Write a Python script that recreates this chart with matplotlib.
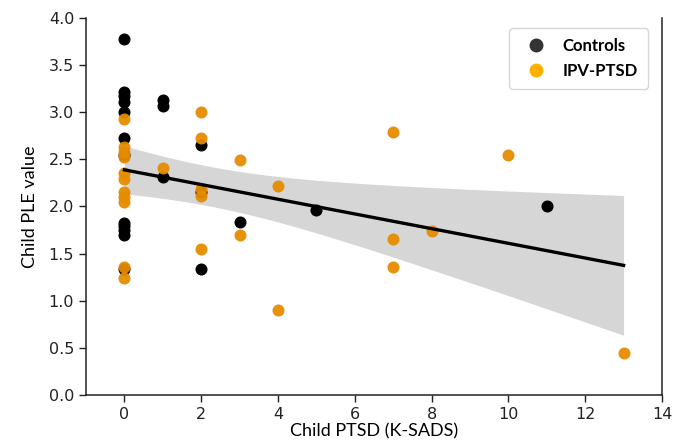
import numpy as np
import matplotlib
matplotlib.use("Agg")
import matplotlib.pyplot as plt
from matplotlib.lines import Line2D

# Controls: child PTSD (K-SADS) vs child PLE value
ctrl_x = [0, 0, 0, 0, 0, 0, 0, 0, 0, 0, 0, 0, 1, 1, 1, 2, 2, 2, 3, 5, 11]
ctrl_y = [3.78, 3.21, 3.17, 3.11, 3.00, 2.73, 2.55, 1.83, 1.79, 1.75, 1.70, 1.34,
          3.13, 3.07, 2.31, 2.65, 2.15, 1.34, 1.84, 1.96, 2.00]

# IPV-PTSD group
ipv_x = [0, 0, 0, 0, 0, 0, 0, 0, 0, 0, 0, 1, 2, 2, 2, 2, 2, 3, 3, 4, 4, 7, 7, 7, 8, 10, 13]
ipv_y = [2.93, 2.63, 2.58, 2.53, 2.36, 2.29, 2.15, 2.10, 2.05, 1.36, 1.24, 2.41,
         3.00, 2.73, 2.19, 2.11, 1.55, 2.49, 1.70, 2.22, 0.90, 2.79, 1.65, 1.36, 1.74,
         2.55, 0.45]

x_ticks = [0, 2, 4, 6, 8, 10, 12, 14]
y_ticks = [0.0, 0.5, 1.0, 1.5, 2.0, 2.5, 3.0, 3.5, 4.0]

# linear fit over both groups with confidence band
x_all = np.array(ctrl_x + ipv_x, dtype=float)
y_all = np.array(ctrl_y + ipv_y, dtype=float)
n = len(x_all)
slope, intercept = np.polyfit(x_all, y_all, 1)
resid = y_all - (slope * x_all + intercept)
s = np.sqrt(np.sum(resid ** 2) / (n - 2))
xm = x_all.mean()
sxx = np.sum((x_all - xm) ** 2)
xg = np.linspace(x_all.min(), x_all.max(), 100)
yg = slope * xg + intercept
t = 2.3
ci = t * s * np.sqrt(1.0 / n + (xg - xm) ** 2 / sxx)

fig = plt.figure(figsize=(6.86, 4.44), dpi=100)
ax = fig.add_axes([0.1254, 0.1104, 0.965 - 0.1254, 0.9595 - 0.1104])

ax.fill_between(xg, yg - ci, yg + ci, color='#d6d6d6', lw=0, zorder=1)
ax.scatter(ctrl_x, ctrl_y, s=75, color='#000000', lw=0, zorder=2)
ax.scatter(ipv_x, ipv_y, s=75, color='#e68c00', alpha=0.95, lw=0, zorder=2)
ax.plot(xg, yg, color='black', lw=2.4, zorder=3)

ax.set_xlim(-1, 14)
ax.set_ylim(0, 4)
ax.set_xticks(x_ticks)
ax.set_yticks(y_ticks)
ax.set_yticklabels(['%.1f' % v for v in y_ticks])
ax.tick_params(labelsize=11.5, length=5, width=1, colors='#222222')
ax.spines['top'].set_visible(False)
for sp in ['left', 'bottom', 'right']:
    ax.spines[sp].set_linewidth(1.1)
    ax.spines[sp].set_color('#222222')

ax.set_xlabel('Child PTSD (K-SADS)', fontsize=13, family='Lato', labelpad=1)
ax.set_ylabel('Child PLE value', fontsize=13, family='Lato', labelpad=8)

handles = [
    Line2D([], [], marker='o', ls='', color='#333333', markersize=9),
    Line2D([], [], marker='o', ls='', color='#ffb000', markersize=9),
]
ax.legend(handles, ['Controls', 'IPV-PTSD'], loc='upper right',
          prop={'family': 'Lato', 'weight': 'bold', 'size': 12},
          borderpad=0.6, handletextpad=0.6, labelspacing=0.5,
          edgecolor='#cccccc', fancybox=True, bbox_to_anchor=(0.99, 0.995))

fig.savefig('out.png', dpi=100)
